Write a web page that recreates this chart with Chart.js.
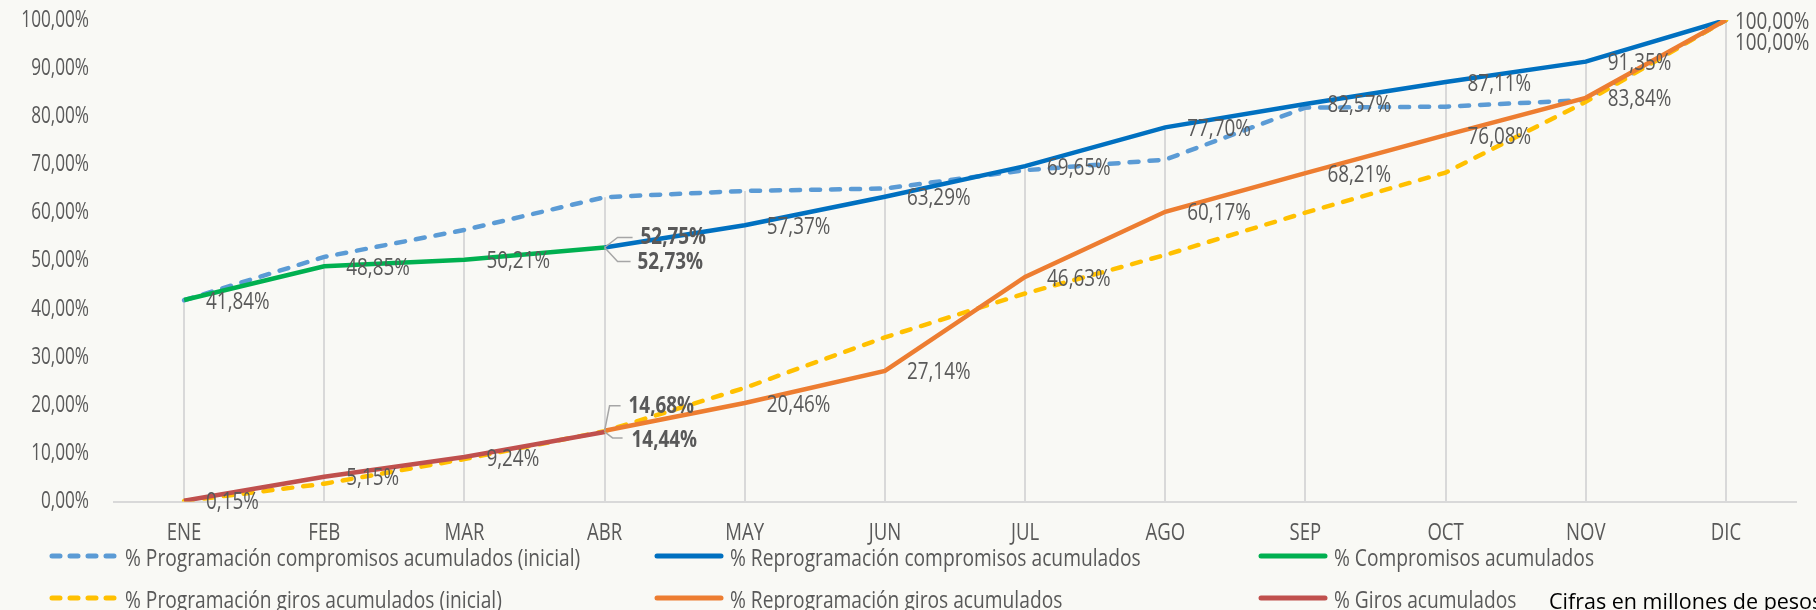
<!DOCTYPE html>
<html>
<head>
<meta charset="utf-8">
<script src="https://cdn.jsdelivr.net/npm/chart.js@4/dist/chart.umd.min.js"></script>
<style>
    body { margin: 0; background: #f9f9f5; overflow: hidden; }
    #marco { position: relative; width: 1816px; height: 610px; overflow: hidden; }
    #grafico { position: absolute; left: 0; top: 0; display: block; }
    .item { position: absolute; display: flex; align-items: center; height: 28px;
            font-family: 'Open Sans', sans-serif; font-size: 24px; color: #595959; white-space: nowrap; }
    .item svg { margin-right: 5px; flex: none; }
    .item span { display: inline-block; transform: scaleX(0.8); transform-origin: left center; }
    .nota { position: absolute; left: 1549px; top: 586px; font-family: 'Open Sans', sans-serif;
            font-size: 21.5px; color: #000; white-space: nowrap; }
</style>
</head>
<body>
<div id="marco">
    <canvas id="grafico" width="1816" height="610"></canvas>
    <div id="leyenda"></div>
    <div class="nota">Cifras en millones de pesos</div>
</div>
<script>
// Datos (porcentajes acumulados)
const meses = ['ENE', 'FEB', 'MAR', 'ABR', 'MAY', 'JUN', 'JUL', 'AGO', 'SEP', 'OCT', 'NOV', 'DIC'];
const progCompromisosInicial = [41.8, 50.8, 56.4, 63.2, 64.5, 65.0, 68.8, 71.0, 81.8, 82.0, 83.4, 100];
const reprogCompromisos = [null, null, null, 52.75, 57.37, 63.29, 69.65, 77.70, 82.57, 87.11, 91.35, 100];
const compromisos = [41.84, 48.85, 50.21, 52.73, null, null, null, null, null, null, null, null];
const progGirosInicial = [0.1, 3.7, 8.8, 14.6, 23.6, 34.1, 43.2, 51.2, 60.0, 68.3, 83.0, 100];
const reprogGiros = [null, null, null, 14.68, 20.46, 27.14, 46.63, 60.17, 68.21, 76.08, 83.84, 100];
const giros = [0.15, 5.15, 9.24, 14.44, null, null, null, null, null, null, null, null];
const marcasY = [0, 10, 20, 30, 40, 50, 60, 70, 80, 90, 100];

const fuente = "'Open Sans', sans-serif";
const gris = '#595959';

const series = [
    { label: '% Programación compromisos acumulados (inicial)', data: progCompromisosInicial, color: '#5B9BD5', dash: true, etiquetas: false },
    { label: '% Reprogramación compromisos acumulados', data: reprogCompromisos, color: '#0070C0', dash: false, etiquetas: true },
    { label: '% Compromisos acumulados', data: compromisos, color: '#00B050', dash: false, etiquetas: true },
    { label: '% Programación giros acumulados (inicial)', data: progGirosInicial, color: '#FFC000', dash: true, etiquetas: false },
    { label: '% Reprogramación giros acumulados', data: reprogGiros, color: '#ED7D31', dash: false, etiquetas: true },
    { label: '% Giros acumulados', data: giros, color: '#C0504D', dash: false, etiquetas: true }
];

function formato(v) {
    return v.toFixed(2).replace('.', ',') + '%';
}

// texto estrechado horizontalmente (la fuente original es condensada)
function texto(ctx, str, x, y, align, negrita, tam, estrecho) {
    ctx.save();
    ctx.font = (negrita ? 'bold ' : '') + tam + 'px ' + fuente;
    ctx.textBaseline = 'middle';
    ctx.textAlign = align;
    ctx.fillStyle = gris;
    ctx.translate(x, y);
    ctx.scale(estrecho, 1);
    ctx.fillText(str, 0, 0);
    ctx.restore();
}

// posiciones especiales de etiquetas (con línea guía en ABR)
const especiales = {
    '1-3': { dx: 36, dy: -10, negrita: true, guia: [[13, -10], [28, -10]] },
    '2-3': { dx: 33, dy: 15, negrita: true, guia: [[13, 14], [26, 14]] },
    '4-3': { dx: 24, dy: -24, negrita: true, guia: [[5, -25], [16, -25]] },
    '5-3': { dx: 27, dy: 8, negrita: true, guia: [[8, 6], [18, 6]] },
    '1-11': { dx: 9, dy: 2 },
    '4-11': { dx: 9, dy: 23 }
};

// líneas de proyección desde el valor máximo de cada mes hasta el eje
const lineasProyeccion = {
    id: 'lineasProyeccion',
    beforeDatasetsDraw(chart) {
        const { ctx, scales: { x, y } } = chart;
        ctx.save();
        ctx.strokeStyle = '#d9d9d9';
        ctx.lineWidth = 2;
        meses.forEach((m, i) => {
            const valores = series.map(s => s.data[i]).filter(v => v !== null);
            const max = Math.max(...valores);
            const px = Math.round(x.getPixelForValue(i));
            ctx.beginPath();
            ctx.moveTo(px, y.getPixelForValue(max));
            ctx.lineTo(px, y.getPixelForValue(0));
            ctx.stroke();
        });
        ctx.restore();
    }
};

// rótulos de los ejes
const rotulosEjes = {
    id: 'rotulosEjes',
    afterDraw(chart) {
        const { ctx, scales: { x, y } } = chart;
        marcasY.forEach(v => texto(ctx, formato(v), 89, y.getPixelForValue(v), 'right', false, 23.5, 0.73));
        meses.forEach((m, i) => texto(ctx, m, x.getPixelForValue(i), 533, 'center', false, 23.5, 0.79));
    }
};

const etiquetas = {
    id: 'etiquetas',
    afterDatasetsDraw(chart) {
        const ctx = chart.ctx;
        series.forEach((s, d) => {
            if (!s.etiquetas) return;
            const meta = chart.getDatasetMeta(d);
            s.data.forEach((v, i) => {
                if (v === null) return;
                const p = meta.data[i];
                const esp = especiales[d + '-' + i] || { dx: 22, dy: 2 };
                if (esp.guia) {
                    ctx.save();
                    ctx.strokeStyle = '#a6a6a6';
                    ctx.lineWidth = 1.5;
                    ctx.beginPath();
                    ctx.moveTo(p.x, p.y);
                    esp.guia.forEach(g => ctx.lineTo(p.x + g[0], p.y + g[1]));
                    ctx.stroke();
                    ctx.restore();
                }
                texto(ctx, formato(v), p.x + esp.dx, p.y + esp.dy, 'left', esp.negrita, 23, 0.82);
            });
        });
    }
};

document.addEventListener('DOMContentLoaded', function () {
    new Chart(document.getElementById('grafico'), {
        type: 'line',
        data: {
            labels: meses,
            datasets: series.map((s, i) => ({
                label: s.label,
                data: s.data,
                borderColor: s.color,
                backgroundColor: s.color,
                borderWidth: 4.5,
                borderDash: s.dash ? [9, 11] : [],
                borderCapStyle: s.dash ? 'round' : 'butt',
                pointRadius: 0,
                tension: 0,
                spanGaps: false,
                order: series.length - i
            }))
        },
        options: {
            responsive: false,
            animation: false,
            layout: { padding: { top: 20, right: 20, bottom: 0, left: 0 } },
            plugins: {
                legend: { display: false },
                tooltip: { enabled: false }
            },
            scales: {
                x: {
                    offset: true,
                    grid: { display: false },
                    border: { display: true, color: '#d9d9d9', width: 2 },
                    ticks: { display: false },
                    afterFit(scale) { scale.height = 108.5; }
                },
                y: {
                    min: 0,
                    max: 100,
                    afterBuildTicks(scale) {
                        scale.ticks = marcasY.map(v => ({ value: v }));
                    },
                    afterFit(scale) { scale.width = 114; },
                    grid: { display: false },
                    border: { display: false },
                    ticks: { display: false }
                }
            }
        },
        plugins: [lineasProyeccion, etiquetas, rotulosEjes]
    });

    // leyenda en dos filas y tres columnas, como en el original
    const columnas = [48, 653, 1257];
    const filas = [556, 598];
    const leyenda = document.getElementById('leyenda');
    series.forEach((s, i) => {
        const item = document.createElement('div');
        item.className = 'item';
        item.style.left = columnas[i % 3] + 'px';
        item.style.top = (filas[Math.floor(i / 3)] - 14) + 'px';
        const dash = s.dash ? 'stroke-dasharray="8 10" stroke-linecap="round"' : 'stroke-linecap="round"';
        item.innerHTML = '<svg width="72" height="8"><line x1="4" y1="4" x2="68" y2="4" stroke="' + s.color +
            '" stroke-width="5" ' + dash + '/></svg><span>' + s.label + '</span>';
        leyenda.appendChild(item);
    });
});
</script>
</body>
</html>
